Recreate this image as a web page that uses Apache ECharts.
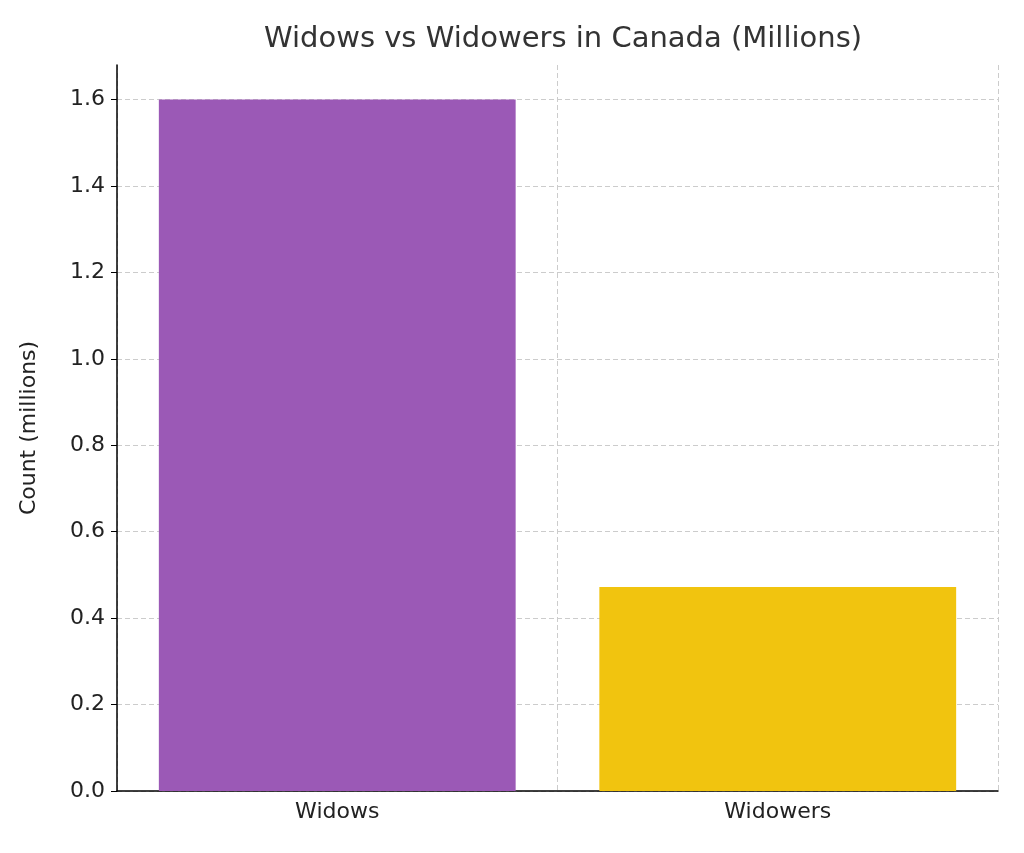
<!DOCTYPE html>
<html><head><meta charset="utf-8">
<script src="https://cdn.jsdelivr.net/npm/echarts@6/dist/echarts.min.js"></script>
<style>html,body{margin:0;padding:0;background:#fff}#c{width:1024px;height:853px}</style>
</head><body><div id="c"></div>
<script>
const categories = ['Widows', 'Widowers'];
const values = [1.6, 0.472];
const barColors = ['#9b59b6', '#f1c40f'];
const chart = echarts.init(document.getElementById('c'));
const F = 'DejaVu Sans';
chart.setOption({
  animation: false,
  title: {text: 'Widows vs Widowers in Canada (Millions)', left: 558, top: 20, textAlign: 'center',
    textStyle: {fontFamily: F, fontSize: 29, fontWeight: 'normal', color: '#333'}},
  grid: {left: 117, right: 26, top: 65, bottom: 62},
  xAxis: {type: 'category', data: categories,
    axisLine: {lineStyle: {color: '#000', width: 1.5}},
    axisTick: {alignWithLabel: true, length: 6, lineStyle: {color: '#000'}},
    axisLabel: {fontFamily: F, fontSize: 22, color: '#222', margin: 10},
    splitLine: {show: true, interval: 0, lineStyle: {type: [5, 3], color: '#ccc'}}},
  yAxis: {type: 'value', min: 0, max: 1.68, interval: 0.2,
    name: 'Count (millions)', nameLocation: 'middle', nameGap: 77, nameRotate: 90,
    nameTextStyle: {fontFamily: F, fontSize: 22, color: '#222'},
    axisLine: {show: true, lineStyle: {color: '#000', width: 1.5}},
    axisTick: {show: true, length: 6, lineStyle: {color: '#000'}},
    axisLabel: {fontFamily: F, fontSize: 22, color: '#222', margin: 12, showMaxLabel: false,
      formatter: v => v.toFixed(1)},
    splitLine: {show: true, showMaxLine: false, lineStyle: {type: [5, 3], color: '#ccc'}}},
  series: [{type: 'bar', barWidth: '81%',
    data: values.map((v, i) => ({value: v, itemStyle: {color: barColors[i]}}))}]
});
</script></body></html>
